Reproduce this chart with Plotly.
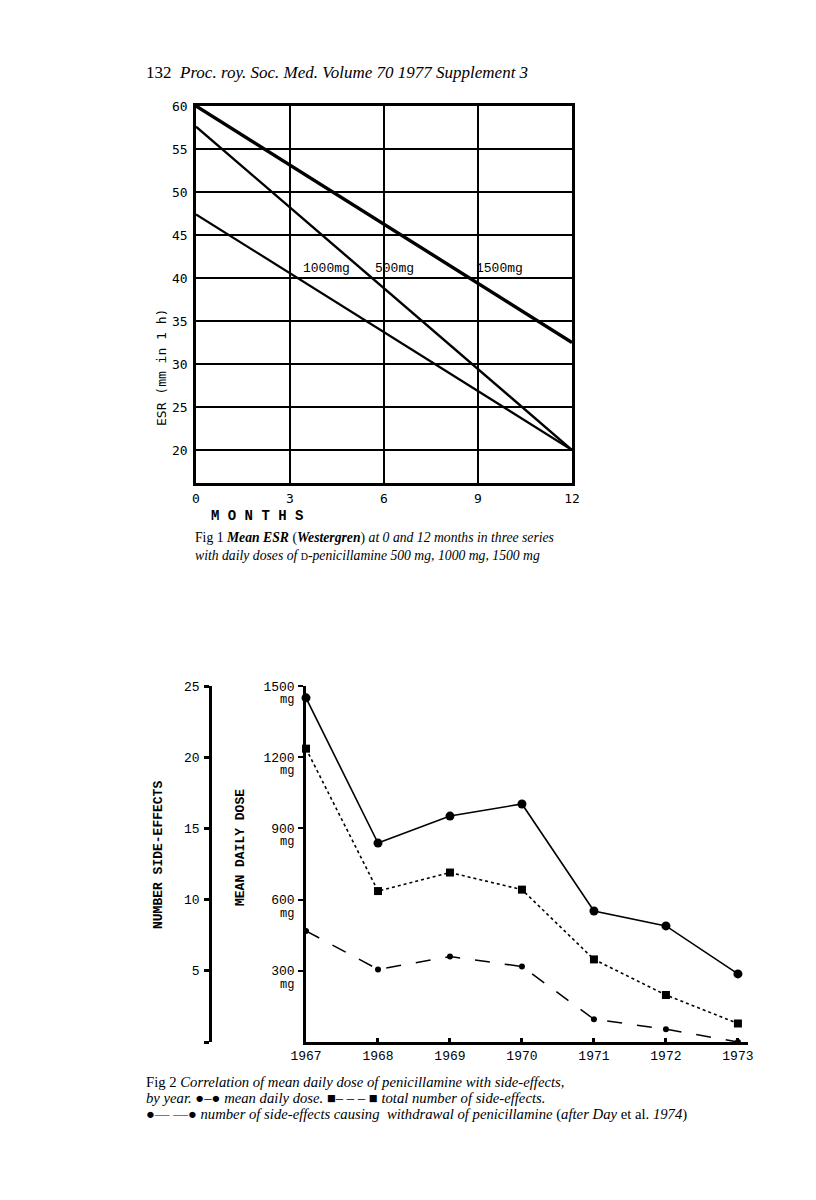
import plotly.graph_objects as go

W, H = 816, 1200

# ---- Fig 1 data: mean ESR at 0 and 12 months
months = [0, 12]
esr_500 = [57.6, 20]
esr_1000 = [47.4, 20]
esr_1500 = [60, 32.5]
esr_labels = ["1000mg", "500mg", "1500mg"]
esr_label_x = [4.15, 6.35, 9.7]
esr_label_y = [41.1, 41.1, 41.1]

# ---- Fig 2 data: by year
years = [1967, 1968, 1969, 1970, 1971, 1972, 1973]
mean_dose = [1450, 838, 952, 1003, 552, 489, 287]          # mg
total_side_effects = [20.6, 10.6, 11.9, 10.7, 5.8, 3.3, 1.3]
withdrawal_side_effects = [7.8, 5.1, 6.0, 5.3, 1.6, 0.9, 0.0]
dose_ticks = [300, 600, 900, 1200, 1500]
se_ticks = [0, 5, 10, 15, 20, 25]

SE_TO_MG = 60  # 25 side-effects share the height of 1500 mg

OFF = 8  # page body margin


def px_x(p):
    return (p - OFF) / W


def px_y(p):
    return 1 - (p - OFF) / H


mono = "Liberation Mono"
sans_mono = "DejaVu Sans Mono"
serif = "Liberation Serif"

fig = go.Figure()

# Fig 1 lines
fig.add_trace(go.Scatter(x=months, y=esr_1500, mode="lines", line=dict(color="black", width=3.4),
                         xaxis="x", yaxis="y"))
fig.add_trace(go.Scatter(x=months, y=esr_500, mode="lines", line=dict(color="black", width=2.4),
                         xaxis="x", yaxis="y"))
fig.add_trace(go.Scatter(x=months, y=esr_1000, mode="lines", line=dict(color="black", width=2.2),
                         xaxis="x", yaxis="y"))

# Fig 2 lines
fig.add_trace(go.Scatter(x=years, y=mean_dose, mode="lines+markers",
                         line=dict(color="black", width=1.6),
                         marker=dict(symbol="circle", size=9, color="black"),
                         xaxis="x2", yaxis="y2", cliponaxis=False))
fig.add_trace(go.Scatter(x=years, y=[v * SE_TO_MG for v in total_side_effects], mode="lines+markers",
                         line=dict(color="black", width=1.6, dash="dot"),
                         marker=dict(symbol="square", size=8, color="black"),
                         xaxis="x2", yaxis="y2", cliponaxis=False))
fig.add_trace(go.Scatter(x=years, y=[v * SE_TO_MG for v in withdrawal_side_effects], mode="lines+markers",
                         line=dict(color="black", width=1.5, dash="longdash"),
                         marker=dict(symbol="circle", size=6, color="black"),
                         xaxis="x2", yaxis="y2", cliponaxis=False))
# invisible trace so the side-effects axis is drawn
fig.add_trace(go.Scatter(x=[years[0]], y=[0], mode="markers", marker=dict(opacity=0),
                         xaxis="x2", yaxis="y3", hoverinfo="skip"))

annotations = []


def text_line(x, y, text, size, family=serif):
    annotations.append(dict(x=px_x(x), y=px_y(y), xref="paper", yref="paper", xanchor="left",
                            yanchor="middle", showarrow=False, text=text,
                            font=dict(family=family, size=size, color="black")))


def vtext(x, y, text, size, family=mono):
    annotations.append(dict(x=px_x(x), y=px_y(y), xref="paper", yref="paper", xanchor="center",
                            yanchor="middle", showarrow=False, text=text, textangle=-90,
                            font=dict(family=family, size=size, color="black")))


# header
text_line(144, 72, "132  <i>Proc. roy. Soc. Med. Volume 70 1977 Supplement 3</i>", 17)

# Fig 1 line labels
for t, lx, ly in zip(esr_labels, esr_label_x, esr_label_y):
    annotations.append(dict(x=lx, y=ly, xref="x", yref="y", showarrow=False, text=t,
                            font=dict(family=mono, size=13, color="black")))

vtext(161, 368, "ESR (mm in 1 h)", 13, sans_mono)
text_line(209, 516, "<b>M O N T H S</b>", 14, mono)
text_line(193, 538, "Fig 1 <b><i>Mean ESR</i></b> (<b><i>Westergren</i></b>) <i>at 0 and 12 months in three series</i>", 13.7)
text_line(193, 555, "<i>with daily doses of </i><span style='font-size:10px'>D</span><i>-penicillamine 500 mg, 1000 mg, 1500 mg</i>", 13.7)

# Fig 2 "mg" under dose tick labels
for v in dose_ticks:
    annotations.append(dict(x=px_x(278), y=v, xref="paper", yref="y2", yshift=-14, showarrow=False,
                            text="mg", font=dict(family=mono, size=12, color="black")))

vtext(158, 855, "<b>NUMBER SIDE-EFFECTS</b>", 13)
vtext(240, 848, "<b>MEAN DAILY DOSE</b>", 13)

text_line(144, 1082, "Fig 2 <i>Correlation of mean daily dose of penicillamine with side-effects,</i>", 14.7)
text_line(144, 1098, "<i>by year.</i> ●–● <i>mean daily dose.</i> ■– – – ■ <i>total number of side-effects.</i>", 14.7)
text_line(144, 1114, "●— —● <i>number of side-effects causing  withdrawal of penicillamine</i> (<i>after Day</i> et al. <i>1974</i>)", 14.7)

fig.update_layout(
    template="none",
    width=W, height=H,
    margin=dict(l=0, r=0, t=0, b=0, pad=0, autoexpand=False),
    paper_bgcolor="white", plot_bgcolor="rgba(0,0,0,0)",
    showlegend=False,
    annotations=annotations,
    xaxis=dict(domain=[px_x(196), px_x(572)], anchor="y", range=[0, 12], tickmode="array",
               tickvals=[0, 3, 6, 9, 12], showgrid=True, gridcolor="black", gridwidth=2,
               showline=True, linecolor="black", linewidth=2.5, mirror=True, zeroline=False,
               ticks="", ticklabelstandoff=2, automargin=False,
               tickfont=dict(family=sans_mono, size=13, color="black")),
    yaxis=dict(domain=[px_y(483), px_y(106)], anchor="x", range=[16.16, 60], tickmode="array",
               tickvals=[20, 25, 30, 35, 40, 45, 50, 55, 60], showgrid=True, gridcolor="black", gridwidth=2,
               showline=True, linecolor="black", linewidth=2.5, mirror=True, zeroline=False,
               ticks="", ticklabelstandoff=3, automargin=False,
               tickfont=dict(family=sans_mono, size=13, color="black")),
    xaxis2=dict(domain=[px_x(306), px_x(748)], anchor="y2", range=[1967, 1973.14], tickmode="array",
                tickvals=years, showgrid=False, zeroline=False,
                showline=True, linecolor="black", linewidth=2.5,
                ticks="inside", ticklen=4, tickwidth=3, tickcolor="black", automargin=False,
                tickfont=dict(family=mono, size=13, color="black")),
    yaxis2=dict(domain=[px_y(1042), px_y(686)], anchor="x2", range=[0, 1500], tickmode="array",
                tickvals=dose_ticks, ticktext=[str(v) for v in dose_ticks], showgrid=False, zeroline=False,
                showline=True, linecolor="black", linewidth=2.5,
                ticks="outside", ticklen=5, tickwidth=2, tickcolor="black", ticklabelstandoff=1,
                automargin=False,
                tickfont=dict(family=mono, size=13, color="black")),
    yaxis3=dict(domain=[px_y(1042), px_y(686)], overlaying="y2", anchor="free", position=px_x(210),
                side="left", range=[0, 25], tickmode="array", tickvals=se_ticks,
                ticktext=["" if v == 0 else str(v) for v in se_ticks],
                showgrid=False, zeroline=False, showline=True, linecolor="black", linewidth=2.5,
                ticks="outside", ticklen=5, tickwidth=3, tickcolor="black", ticklabelstandoff=2,
                automargin=False,
                tickfont=dict(family=mono, size=13, color="black")),
)

fig.write_html("out.html")
